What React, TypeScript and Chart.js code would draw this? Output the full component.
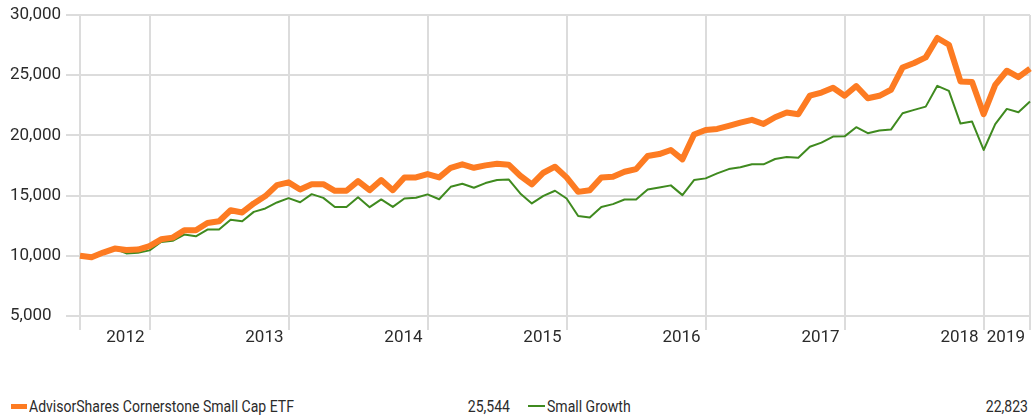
import React, { useEffect, useRef } from 'react';
import { Chart, registerables } from 'chart.js';

Chart.register(...registerables);

const FONT = "Roboto, 'Liberation Sans', sans-serif";

// Monthly category labels: June 2012 .. April 2019
const startYear = 2012;
const startMonth = 6;
const monthCount = 83;
const months: string[] = [];
for (let i = 0; i < monthCount; i++) {
  const m = startMonth - 1 + i;
  const y = startYear + Math.floor(m / 12);
  const mm = (m % 12) + 1;
  months.push(`${y}-${mm < 10 ? '0' + mm : mm}`);
}

const fundName = 'AdvisorShares Cornerstone Small Cap ETF';
const categoryName = 'Small Growth';
const fundEndLabel = '25,544';
const categoryEndLabel = '22,823';

const fundValues = [
  10000, 9880, 10270, 10600, 10480, 10520, 10800, 11370, 11510, 12120, 12120, 12730,
  12870, 13780, 13600, 14350, 14960, 15870, 16100, 15510, 15950, 15950, 15400, 15400,
  16200, 15450, 16290, 15450, 16510, 16510, 16790, 16510, 17310, 17600, 17310, 17510,
  17650, 17570, 16650, 15930, 16900, 17400, 16510, 15310, 15450, 16510, 16560, 16980,
  17200, 18290, 18450, 18790, 18010, 20080, 20450, 20540, 20790, 21060, 21290, 20950,
  21510, 21900, 21760, 23310, 23560, 23950, 23290, 24100, 23090, 23290, 23790, 25640,
  26010, 26480, 28090, 27530, 24480, 24430, 21760, 24200, 25370, 24840, 25544,
];

const categoryValues = [
  10000, 9880, 10250, 10580, 10200, 10250, 10450, 11150, 11250, 11760, 11620, 12180,
  12180, 13000, 12870, 13650, 13930, 14430, 14790, 14450, 15120, 14810, 14060, 14060,
  14870, 14040, 14680, 14060, 14760, 14820, 15100, 14700, 15730, 15980, 15650, 16040,
  16290, 16340, 15180, 14350, 14980, 15400, 14760, 13310, 13180, 14060, 14290, 14680,
  14680, 15510, 15680, 15850, 15040, 16290, 16430, 16850, 17200, 17350, 17600, 17600,
  18040, 18200, 18150, 19060, 19400, 19900, 19920, 20680, 20180, 20400, 20480, 21840,
  22120, 22390, 24120, 23700, 20980, 21150, 18790, 20930, 22200, 21930, 22823,
];

const yMin = 5000;
const yMax = 30000;
const yStep = 5000;

const fundColor = '#fd7b22';
const categoryColor = '#3f8a1f';
const gridColor = '#dcdcdc';
const textColor = '#2b2b2b';

function isGridTick(index: number): boolean {
  const label = months[index];
  return index === 0 || index === months.length - 1 || (label !== undefined && label.endsWith('-12'));
}

function tickText(index: number): string {
  const label = months[index];
  if (index === 0 || !label) return '';
  if (label.endsWith('-12') || index === months.length - 1) return label.slice(0, 4);
  return '';
}

export default function App() {
  const canvasRef = useRef<HTMLCanvasElement | null>(null);

  useEffect(() => {
    const canvas = canvasRef.current;
    if (!canvas) return;
    const chart = new Chart(canvas, {
      type: 'line',
      data: {
        labels: months,
        datasets: [
          {
            label: fundName,
            data: fundValues,
            borderColor: fundColor,
            backgroundColor: fundColor,
            borderWidth: 6,
            pointRadius: 0,
            tension: 0,
            borderJoinStyle: 'round',
            borderCapStyle: 'butt',
          },
          {
            label: categoryName,
            data: categoryValues,
            borderColor: categoryColor,
            backgroundColor: categoryColor,
            borderWidth: 2,
            pointRadius: 0,
            tension: 0,
            borderJoinStyle: 'round',
          },
        ],
      },
      options: {
        responsive: false,
        animation: false,
        devicePixelRatio: 1,
        layout: { padding: { top: 15, left: 10, right: 5, bottom: 0 } },
        plugins: {
          legend: { display: false },
          tooltip: { enabled: false },
        },
        scales: {
          x: {
            type: 'category',
            offset: false,
            border: { display: false },
            grid: {
              color: (ctx: any) => (isGridTick(ctx.index) ? gridColor : 'rgba(0,0,0,0)'),
              lineWidth: 2,
              tickLength: 14,
              drawTicks: true,
            },
            ticks: {
              autoSkip: false,
              maxRotation: 0,
              minRotation: 0,
              align: 'end',
              labelOffset: -5,
              padding: -2,
              color: textColor,
              font: { family: FONT, size: 17 },
              callback: (_v: any, index: number) => tickText(index),
            },
            afterFit: (scale: any) => {
              scale.height = 44;
            },
          },
          y: {
            min: yMin,
            max: yMax,
            border: { display: false },
            grid: {
              color: gridColor,
              lineWidth: 2,
              tickLength: 14,
            },
            ticks: {
              stepSize: yStep,
              crossAlign: 'far',
              color: textColor,
              font: { family: FONT, size: 17 },
              callback: (v: any) => Number(v).toLocaleString('en-US'),
            },
            afterFit: (scale: any) => {
              scale.width = 70;
            },
          },
        },
      },
    });
    return () => chart.destroy();
  }, []);

  const legendText: React.CSSProperties = {
    fontFamily: FONT,
    fontSize: 16,
    color: textColor,
    position: 'absolute',
    top: 397,
    lineHeight: '20px',
    whiteSpace: 'nowrap',
    transform: 'scaleX(0.877)',
  };

  return (
    <div style={{ position: 'absolute', left: 0, top: 0, width: 1035, height: 420, background: '#fff' }}>
      <canvas ref={canvasRef} width={1035} height={360} style={{ display: 'block', width: 1035, height: 360 }} />
      <div style={{ position: 'absolute', left: 11, top: 404, width: 16, height: 5, background: fundColor }} />
      <div style={{ ...legendText, left: 29, transformOrigin: 'left center' }}>{fundName}</div>
      <div style={{ ...legendText, left: 300, width: 210, textAlign: 'right', transformOrigin: 'right center' }}>{fundEndLabel}</div>
      <div style={{ position: 'absolute', left: 528, top: 405, width: 17, height: 2, background: categoryColor }} />
      <div style={{ ...legendText, left: 547, transformOrigin: 'left center' }}>{categoryName}</div>
      <div style={{ ...legendText, left: 818, width: 210, textAlign: 'right', transformOrigin: 'right center' }}>{categoryEndLabel}</div>
    </div>
  );
}
